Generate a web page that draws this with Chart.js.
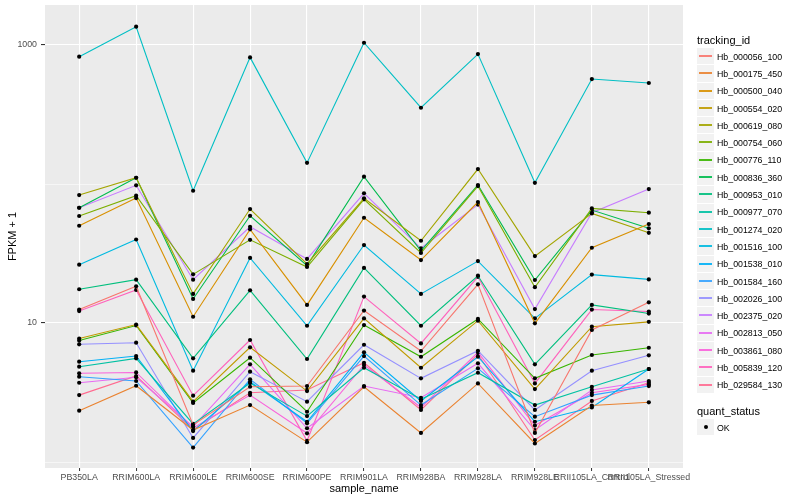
<!DOCTYPE html>
<html>
<head>
<meta charset="utf-8">
<script src="https://cdn.jsdelivr.net/npm/chart.js@4.4.1/dist/chart.umd.min.js"></script>
<style>
  body { margin: 0; background: #fff; font-family: "Liberation Sans", Arial, sans-serif; }
  #wrap { position: relative; width: 800px; height: 500px; }
  #legend { position: absolute; left: 697px; top: 32px; color: #000; }
  .ltitle { font-size: 11px; height: 16px; line-height: 16px; }
  .row { display: flex; align-items: center; height: 17.3px; font-size: 8.8px; }
  .key { width: 17px; height: 16.3px; background: #f2f2f2; border-bottom: 1px solid #fff; position: relative; margin-right: 3px; }
  .key i { position: absolute; left: 2px; right: 2px; top: 7px; height: 2px; opacity: 0.9; }
  .key b { position: absolute; left: 6.5px; top: 6.5px; width: 4px; height: 4px; border-radius: 2px; background: #000; }
</style>
</head>
<body>
<div id="wrap">
  <canvas id="chart" width="800" height="500"></canvas>
  <div id="legend"></div>
</div>
<script>
const samples = ['PB350LA', 'RRIM600LA', 'RRIM600LE', 'RRIM600SE', 'RRIM600PE', 'RRIM901LA',
  'RRIM928BA', 'RRIM928LA', 'RRIM928LE', 'RRII105LA_Control', 'RRII105LA_Stressed'];

const trackingIds = ['Hb_000056_100', 'Hb_000175_450', 'Hb_000500_040', 'Hb_000554_020', 'Hb_000619_080',
  'Hb_000754_060', 'Hb_000776_110', 'Hb_000836_360', 'Hb_000953_010', 'Hb_000977_070', 'Hb_001274_020',
  'Hb_001516_100', 'Hb_001538_010', 'Hb_001584_160', 'Hb_002026_100', 'Hb_002375_020', 'Hb_002813_050',
  'Hb_003861_080', 'Hb_005839_120', 'Hb_029584_130'];

// FPKM + 1, one value per sample
const hb000056 = [12.5, 18.4, 1.85, 3.48, 3.52, 12.3, 6.29, 19.0, 1.62, 8.91, 14.1];
const hb000175 = [2.34, 3.54, 1.70, 2.57, 1.39, 3.48, 1.62, 3.68, 1.36, 2.55, 2.69];
const hb000500 = [50.1, 79.3, 11.1, 47.2, 13.5, 57.2, 28.4, 74.2, 9.95, 34.8, 51.5];
const hb000554 = [7.74, 9.75, 2.72, 6.69, 3.24, 10.8, 4.77, 10.4, 3.35, 9.41, 10.2];
const hb000619 = [83.3, 111.0, 16.2, 66.1, 26.6, 78.9, 39.1, 128.2, 30.3, 61.5, 44.6];
const hb000754 = [58.9, 82.4, 22.4, 39.7, 25.3, 77.6, 31.9, 96.7, 18.1, 66.8, 62.2];
const hb000776 = [7.48, 9.60, 2.66, 5.63, 2.30, 9.67, 5.72, 10.7, 4.00, 5.89, 6.64];
const hb000836 = [67.5, 111.0, 14.9, 59.1, 25.9, 112.9, 33.1, 98.4, 20.4, 65.0, 48.0];
const hb000953 = [17.5, 20.5, 5.57, 17.2, 5.51, 24.9, 9.56, 21.9, 5.05, 13.5, 11.7];
const hb000977 = [4.85, 5.57, 1.88, 3.70, 2.14, 4.77, 2.83, 4.39, 2.57, 3.48, 4.67];
const hb001274 = [824, 1355, 89.5, 815, 142, 1039, 354, 861, 102, 569, 533];
const hb001516 = [26.3, 39.9, 4.54, 29.4, 9.56, 36.4, 16.2, 27.9, 10.8, 22.3, 20.6];
const hb001538 = [5.27, 5.79, 1.67, 3.78, 1.95, 6.16, 2.75, 5.72, 1.95, 2.47, 4.67];
const hb001584 = [4.11, 3.83, 1.27, 3.94, 1.90, 5.79, 2.57, 4.72, 2.12, 3.03, 3.52];
const hb002026 = [7.03, 7.22, 1.49, 4.47, 2.72, 6.98, 4.00, 6.32, 2.37, 4.54, 5.86];
const hb002375 = [67.5, 97.9, 20.5, 49.3, 28.9, 85.7, 34.5, 71.2, 12.6, 62.2, 92.0];
const hb002813 = [3.72, 4.07, 1.80, 5.05, 1.75, 3.52, 2.90, 5.13, 1.70, 3.30, 3.83];
const hb003861 = [4.35, 4.41, 1.76, 3.03, 1.61, 4.99, 2.47, 6.16, 1.83, 3.15, 3.62];
const hb005839 = [12.2, 17.3, 3.00, 7.55, 1.42, 15.5, 7.14, 21.5, 3.68, 12.5, 12.1];
const hb029584 = [3.03, 4.16, 1.71, 3.15, 3.30, 5.18, 2.37, 5.96, 1.44, 2.75, 3.72];

const seriesValues = [hb000056, hb000175, hb000500, hb000554, hb000619, hb000754, hb000776, hb000836,
  hb000953, hb000977, hb001274, hb001516, hb001538, hb001584, hb002026, hb002375, hb002813, hb003861,
  hb005839, hb029584];

const yTicks = [1, 10, 100, 1000];
const yLabelled = [10, 1000];

// ggplot2 default hue palette, 20 levels
const colors = ['#F8766D', '#EA8331', '#D89000', '#C09B00', '#A3A500', '#7CAE00', '#39B600', '#00BB4E',
  '#00BF7D', '#00C1A3', '#00BFC4', '#00BAE0', '#00B0F6', '#35A2FF', '#9590FF', '#C77CFF', '#E76BF3',
  '#FA62DB', '#FF62BC', '#FF6C91'];

const FONT = '"Liberation Sans", Arial, sans-serif';

const panelBg = {
  id: 'panelBg',
  beforeDraw(chart) {
    const { ctx, chartArea: a } = chart;
    ctx.save();
    ctx.fillStyle = '#EBEBEB';
    ctx.fillRect(a.left, a.top, a.right - a.left, a.bottom - a.top);
    ctx.restore();
  }
};

const datasets = trackingIds.map((id, k) => ({
  label: id,
  data: seriesValues[k].map((v, i) => ({ x: i, y: v })),
  borderColor: colors[k],
  borderWidth: 1.1,
  pointRadius: 2.1,
  pointBackgroundColor: '#000',
  pointBorderWidth: 0,
  pointHoverRadius: 2.1,
  tension: 0,
}));

new Chart(document.getElementById('chart'), {
  type: 'line',
  data: { datasets },
  options: {
    responsive: false,
    animation: false,
    events: [],
    layout: { padding: { top: 5, right: 117, left: 0, bottom: 0 } },
    plugins: { legend: { display: false }, tooltip: { enabled: false } },
    scales: {
      x: {
        type: 'linear',
        min: -0.6,
        max: samples.length - 0.4,
        afterBuildTicks: (axis) => { axis.ticks = samples.map((s, i) => ({ value: i })); },
        afterFit: (scale) => { scale.height = 32; scale.paddingLeft = 0; scale.paddingRight = 0; },
        grid: { color: '#fff', lineWidth: 1.1, tickLength: 3, tickColor: '#333', tickWidth: 1 },
        border: { display: false },
        ticks: {
          autoSkip: false, maxRotation: 0, padding: 1, color: '#4D4D4D',
          font: { family: FONT, size: 8.8 },
          callback: (v) => samples[v],
        },
        title: { display: true, text: 'sample_name', color: '#000', font: { family: FONT, size: 11 }, padding: { top: 0, bottom: 4 } },
      },
      y: {
        type: 'logarithmic',
        min: 0.906,
        max: 1941,
        afterBuildTicks: (axis) => { axis.ticks = yTicks.map(v => ({ value: v })); },
        afterFit: (scale) => { scale.width = 45; scale.paddingTop = 0; scale.paddingBottom = 0; },
        grid: {
          color: '#fff',
          lineWidth: (c) => (c.tick && yLabelled.includes(c.tick.value)) ? 1.1 : 0.55,
          tickLength: 4,
          tickColor: (c) => (c.tick && yLabelled.includes(c.tick.value)) ? '#333' : 'rgba(0,0,0,0)',
        },
        border: { display: false },
        ticks: {
          padding: 4, color: '#4D4D4D', font: { family: FONT, size: 8.8 },
          callback: (v) => yLabelled.includes(v) ? String(v) : '',
        },
        title: { display: true, text: 'FPKM + 1', color: '#000', font: { family: FONT, size: 11 }, padding: { top: 6, bottom: 0 } },
      },
    },
  },
  plugins: [panelBg],
});

// legend in the ggplot style
const legend = document.getElementById('legend');
let html = '<div class="ltitle">tracking_id</div>';
trackingIds.forEach((id, k) => {
  html += `<div class="row"><span class="key"><i style="background:${colors[k]}"></i></span>${id}</div>`;
});
html += '<div class="ltitle" style="margin-top:9px">quant_status</div>';
html += '<div class="row"><span class="key"><b></b></span>OK</div>';
legend.innerHTML = html;
</script>
</body>
</html>
